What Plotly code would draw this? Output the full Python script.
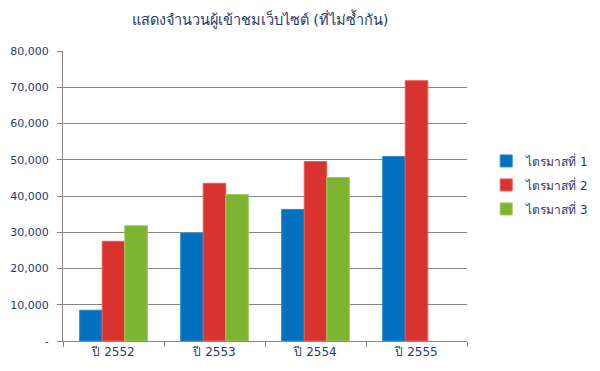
import plotly.graph_objects as go

categories = ["ปี 2552", "ปี 2553", "ปี 2554", "ปี 2555"]
series_names = ["ไตรมาสที่ 1", "ไตรมาสที่ 2", "ไตรมาสที่ 3"]
q1 = [8500, 29800, 36300, 50900]
q2 = [27500, 43500, 49500, 71800]
q3 = [31800, 40400, 45100, None]
tick_vals = [0, 10000, 20000, 30000, 40000, 50000, 60000, 70000, 80000]
tick_text = ["-", "10,000", "20,000", "30,000", "40,000", "50,000", "60,000", "70,000", "80,000"]
title_text = "แสดงจำนวนผู้เข้าชมเว็บไซต์ (ที่ไม่ซ้ำกัน)"

colors = ["#0170BF", "#D9332F", "#7DB431"]
lines = ["#2A8AD0", "#EE5A55", "#9CCB5A"]
text_color = "#1F3B6E"
grid_color = "#878787"
font_family = "DejaVu Sans, sans-serif"

fig = go.Figure()
for name, vals, c, lc in zip(series_names, [q1, q2, q3], colors, lines):
    fig.add_trace(go.Bar(
        x=categories, y=vals, name=name, legendgroup=name,
        marker=dict(color=c, line=dict(color=lc, width=1)),
    ))

fig.update_layout(
    width=600, height=371,
    margin=dict(l=55, r=141, t=43, b=38),
    paper_bgcolor="white", plot_bgcolor="white",
    barmode="group", bargap=0.33, bargroupgap=0,
    font=dict(family=font_family, color=text_color, size=11),
    title=dict(text=title_text, x=0.42, xanchor="center", y=0.969, yanchor="middle",
               font=dict(size=14.5, color=text_color, family=font_family)),
    legend=dict(xref="container", yref="container", x=0.797, xanchor="left",
                y=0.523, yanchor="middle",
                font=dict(size=12, color=text_color), traceorder="grouped",
                tracegroupgap=5, itemwidth=30),
    showlegend=True,
)
fig.update_yaxes(
    range=[0, 80000], tickvals=tick_vals, ticktext=tick_text,
    showgrid=True, gridcolor=grid_color, gridwidth=1,
    showline=True, linecolor=grid_color, linewidth=1,
    ticks="outside", ticklen=5, tickcolor=grid_color, ticklabelstandoff=6,
    tickfont=dict(size=11, color=text_color), zeroline=False, automargin=False,
)
fig.update_xaxes(
    showline=True, linecolor=grid_color, linewidth=1,
    ticks="outside", ticklen=5, tickcolor=grid_color, tickson="boundaries",
    tickfont=dict(size=12, color=text_color), automargin=False,
)

fig.write_html("out.html")
